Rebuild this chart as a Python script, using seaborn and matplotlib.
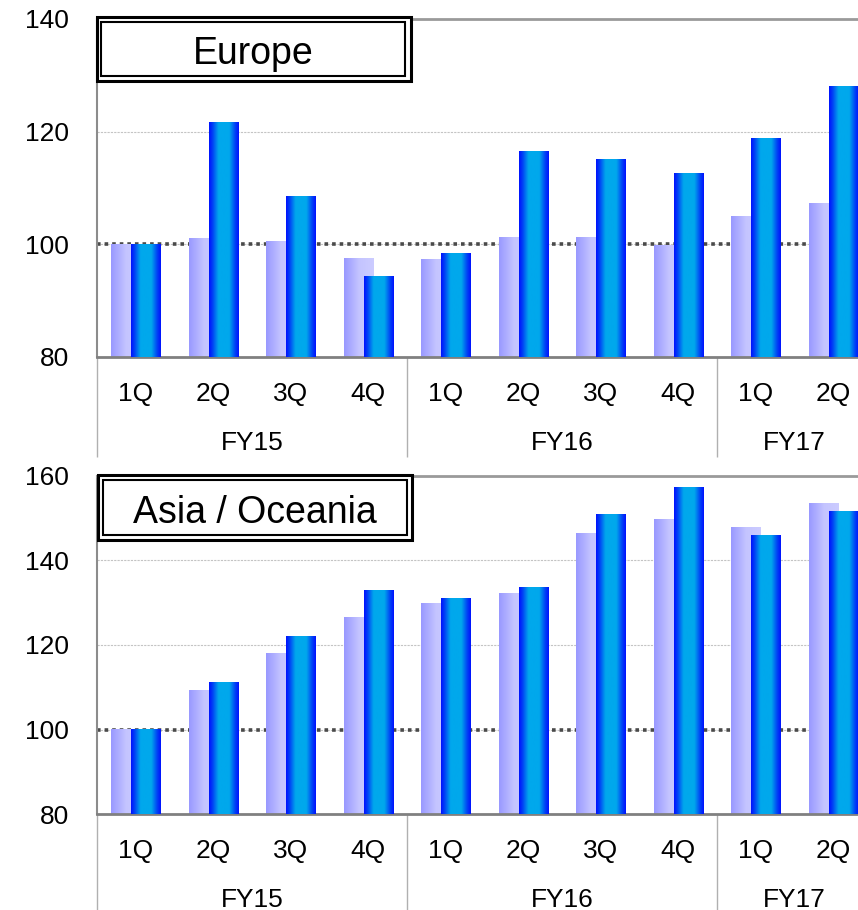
import numpy as np
import pandas as pd
import matplotlib
matplotlib.use('Agg')
import matplotlib.pyplot as plt
import seaborn as sns
from matplotlib.colors import LinearSegmentedColormap
from matplotlib.patches import Rectangle

# ---- data (index values per quarter) ----
quarters = ['1Q', '2Q', '3Q', '4Q', '1Q', '2Q', '3Q', '4Q', '1Q', '2Q']
fiscal_years = ['FY15', 'FY16', 'FY17']
fy_quarter_counts = [4, 4, 2]

europe_light = [100.0, 101.1, 100.5, 97.5, 97.3, 101.2, 101.2, 99.8, 105.0, 107.3]
europe_dark = [100.0, 121.6, 108.5, 94.3, 98.4, 116.5, 115.0, 112.6, 118.8, 128.0]
asia_light = [100.0, 109.3, 118.1, 126.4, 129.9, 132.1, 146.3, 149.6, 147.7, 153.4]
asia_dark = [100.0, 111.2, 121.9, 132.8, 130.9, 133.5, 151.0, 157.2, 145.8, 151.5]

sns.set_style('white')
plt.rcParams['font.family'] = ['Liberation Sans', 'DejaVu Sans']
plt.rcParams['text.color'] = 'black'
plt.rcParams['xtick.labelcolor'] = 'black'
plt.rcParams['ytick.labelcolor'] = 'black'

W, H = 858, 910
light_cmap = LinearSegmentedColormap.from_list(
    'lav', [(0, '#9898ff'), (0.5, '#c4c4ff'), (1, '#ccccff')])
dark_cmap = LinearSegmentedColormap.from_list(
    'blu', [(0, '#0010ff'), (0.12, '#0040f6'), (0.32, '#00a8ec'),
            (0.68, '#00a8ec'), (0.88, '#0040f6'), (1, '#0010ff')])
grad = np.linspace(0, 1, 256).reshape(1, -1)

fig = plt.figure(figsize=(W / 100, H / 100), dpi=100)


def px_box(x0, y0, x1, y1, lw, fill):
    r = Rectangle((x0 / W, 1 - y1 / H), (x1 - x0) / W, (y1 - y0) / H,
                  transform=fig.transFigure, lw=lw, ec='black',
                  fc='white' if fill else 'none', zorder=10)
    fig.add_artist(r)


def draw_panel(ax, light, dark, yticks, title, outer, inner, text_xy):
    n = len(quarters)
    idx = np.arange(n)
    df = pd.DataFrame({'pos': np.concatenate([idx - 0.13, idx + 0.13]),
                       'value': list(light) + list(dark),
                       'series': ['light'] * n + ['dark'] * n})
    ax.axhline(100, color='#4a4a4a', lw=2.6, ls=(0, (1, 1.1)), zorder=1.5)
    for name, cmap, z in [('light', light_cmap, 2), ('dark', dark_cmap, 3)]:
        sub = df[df.series == name]
        n0 = len(ax.patches)
        sns.barplot(data=sub, x='pos', y='value', native_scale=True, orient='x',
                    width=0.375, color='white', errorbar=None, ax=ax)
        for p in ax.patches[n0:]:
            x0, w, h = p.get_x(), p.get_width(), p.get_height()
            ax.imshow(grad, cmap=cmap, extent=[x0, x0 + w, 0, h],
                      aspect='auto', zorder=z, interpolation='bilinear')
            p.set_facecolor('none')
            p.set_edgecolor('none')

    ax.set_yticks(yticks)
    ax.grid(axis='y', color='#c4c4c4', lw=0.8, ls=(0, (2, 1)), zorder=0)
    ax.set_axisbelow(True)
    ax.set_xlabel('')
    ax.set_ylabel('')

    ax.set_xticks(idx, quarters)
    ax.set_xticks(np.arange(-0.5, n, 1), minor=True)
    ax.tick_params(axis='x', which='major', length=0, pad=18, labelsize=19)
    ax.tick_params(axis='x', which='minor', length=36.5, width=1, color='#b0b0b0')
    ax.tick_params(axis='y', direction='in', length=6, color='#999999',
                   pad=20, labelsize=19)

    ax.spines['left'].set_color('#8c8c8c')
    ax.spines['left'].set_linewidth(1.5)
    ax.spines['bottom'].set_color('#808080')
    ax.spines['bottom'].set_linewidth(2)
    ax.spines['top'].set_color('#9a9a9a')
    ax.spines['top'].set_linewidth(2)
    ax.spines['right'].set_visible(False)

    # fiscal-year level of the axis
    starts = np.cumsum([0] + fy_quarter_counts[:-1]) - 0.5
    centers = starts + np.array(fy_quarter_counts) / 2
    sec = ax.secondary_xaxis('bottom')
    sec.set_xticks(starts, [''] * len(starts))
    sec.set_xticks(centers, fiscal_years, minor=True)
    sec.tick_params(which='major', length=72, width=1, color='#b0b0b0')
    sec.tick_params(which='minor', length=0, pad=53, labelsize=19)
    sec.spines['bottom'].set_visible(False)

    # limits last, since set_xticks widens the view
    ax.set_xlim(-0.5, -0.5 + 761 / 77.5)
    ax.set_ylim(yticks[0], yticks[-1])

    # double-bordered title box
    px_box(*outer, lw=2.2, fill=True)
    px_box(*inner, lw=1.5, fill=False)
    fig.text(text_xy[0] / W, 1 - text_xy[1] / H, title, ha='center',
             va='baseline', fontsize=27, zorder=11)


ax1 = fig.add_axes([97 / W, (H - 357) / H, 761 / W, 338 / H])
ax2 = fig.add_axes([97 / W, (H - 814) / H, 761 / W, 338 / H])

draw_panel(ax1, europe_light, europe_dark, [80, 100, 120, 140], 'Europe',
           (96.5, 16.5, 410.5, 80.5), (101, 22, 405, 76), (253, 64))
draw_panel(ax2, asia_light, asia_dark, [80, 100, 120, 140, 160], 'Asia / Oceania',
           (97.5, 474.5, 411.5, 539.5), (103, 480, 407, 535), (254.5, 523))

fig.savefig('out.png', dpi=100)
